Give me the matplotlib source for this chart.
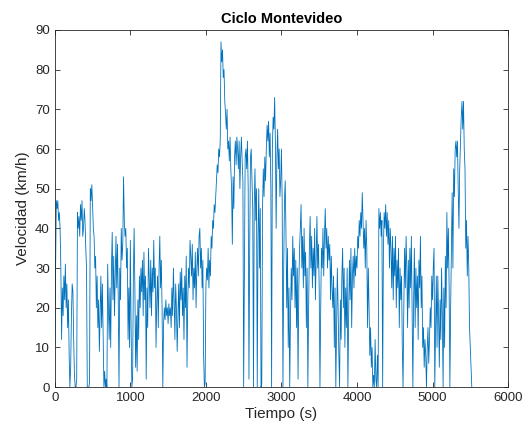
import numpy as np
import matplotlib
matplotlib.use("Agg")
import matplotlib.pyplot as plt

dt = 10  # s between samples
speed = [
    # 0 - 490 s
    11, 30, 47, 45, 47, 42, 44, 40, 30, 12,
    25, 18, 28, 22, 31, 20, 26, 15, 22, 8,
    0, 5, 18, 26, 24, 12, 3, 0, 0, 2,
    44, 40, 43, 38, 46, 42, 47, 38, 40, 45,
    42, 35, 30, 0, 0, 0, 1, 50, 47, 51,
    # 500 - 990 s
    46, 40, 38, 30, 33, 20, 28, 15, 22, 9,
    18, 28, 15, 26, 12, 0, 4, 0, 2, 0,
    31, 20, 12, 25, 10, 30, 39, 22, 33, 18,
    28, 38, 25, 36, 22, 0, 30, 22, 40, 32,
    36, 53, 42, 38, 40, 30, 35, 12, 25, 10,
    # 1000 - 1490 s
    37, 15, 0, 2, 28, 40, 25, 5, 18, 4,
    22, 12, 28, 20, 30, 24, 32, 18, 34, 22,
    28, 2, 25, 15, 35, 28, 20, 32, 18, 30,
    24, 37, 25, 30, 10, 22, 28, 15, 30, 38,
    25, 32, 20, 0, 16, 20, 17, 22, 18, 20,
    # 1500 - 1990 s
    16, 21, 18, 20, 15, 25, 18, 30, 22, 12,
    26, 20, 9, 18, 26, 15, 29, 22, 30, 18,
    25, 12, 28, 20, 33, 5, 22, 30, 25, 37,
    33, 28, 36, 22, 30, 25, 34, 20, 30, 35,
    28, 38, 40, 30, 35, 25, 32, 8, 0, 1,
    # 2000 - 2490 s
    25, 30, 27, 35, 25, 32, 28, 38, 35, 42,
    40, 46, 44, 48, 52, 56, 54, 60, 58, 62,
    87, 82, 85, 78, 80, 72, 69, 65, 70, 60,
    62, 57, 63, 55, 50, 36, 53, 45, 58, 62,
    56, 63, 60, 55, 62, 50, 58, 63, 57, 52,
    # 2500 - 2990 s
    0, 30, 58, 60, 55, 62, 50, 2, 35, 58,
    60, 52, 45, 0, 46, 55, 42, 50, 0, 38,
    50, 30, 45, 0, 1, 45, 55, 48, 58, 52,
    60, 66, 62, 67, 58, 64, 50, 0, 60, 68,
    65, 73, 62, 40, 58, 65, 55, 60, 48, 52,
    # 3000 - 3490 s
    60, 47, 0, 30, 47, 52, 39, 20, 35, 10,
    25, 0, 18, 30, 22, 38, 28, 35, 20, 32,
    15, 30, 2, 25, 35, 40, 46, 30, 38, 25,
    40, 28, 34, 15, 30, 0, 20, 35, 43, 30,
    38, 25, 35, 28, 40, 22, 33, 43, 30, 36,
    # 3500 - 3990 s
    25, 0, 20, 35, 30, 40, 28, 38, 45, 35,
    40, 30, 38, 32, 36, 22, 33, 25, 20, 28,
    10, 25, 0, 15, 30, 20, 8, 0, 22, 12,
    28, 35, 20, 30, 10, 25, 15, 30, 0, 18,
    32, 22, 35, 15, 28, 33, 25, 35, 28, 33,
    # 4000 - 4490 s
    30, 38, 35, 42, 38, 44, 40, 49, 42, 35,
    40, 30, 42, 35, 15, 30, 20, 8, 15, 5,
    10, 0, 3, 0, 12, 2, 0, 8, 0, 45,
    40, 44, 38, 42, 0, 35, 44, 40, 46, 38,
    44, 36, 42, 30, 40, 35, 25, 38, 22, 35,
    # 4500 - 4990 s
    28, 38, 20, 32, 25, 35, 15, 30, 22, 28,
    10, 0, 20, 35, 25, 38, 30, 15, 32, 20,
    35, 25, 38, 18, 0, 22, 35, 15, 30, 20,
    28, 12, 32, 25, 38, 20, 28, 10, 15, 5,
    12, 8, 0, 10, 15, 6, 12, 20, 15, 28,
    # 5000 - 5520 s
    22, 30, 35, 0, 15, 28, 10, 28, 18, 5,
    22, 12, 30, 18, 0, 25, 10, 33, 20, 44,
    30, 40, 25, 0, 20, 35, 49, 30, 55, 48,
    60, 62, 58, 62, 50, 40, 55, 62, 68, 72,
    65, 72, 60, 55, 35, 42, 28, 38, 30, 15,
    10, 5, 0,
]
time = np.arange(len(speed)) * dt

x_ticks = [0, 1000, 2000, 3000, 4000, 5000, 6000]
y_ticks = [0, 10, 20, 30, 40, 50, 60, 70, 80, 90]

plt.rcParams['font.family'] = ['Liberation Sans', 'DejaVu Sans']
fig = plt.figure(figsize=(5.32, 4.34), dpi=100)
ax = fig.add_axes([0.103, 0.108, 0.852, 0.823])
ax.plot(time, speed, color='#0072BD', linewidth=0.6)
ax.set_xlim(0, 6000)
ax.set_ylim(0, 90)
ax.set_xticks(x_ticks)
ax.set_yticks(y_ticks)
ax.tick_params(direction='in', top=True, right=True, labelsize=9.5, colors='#262626', length=3.5, width=0.6)
for s in ax.spines.values():
    s.set_color('#262626')
    s.set_linewidth(0.6)
ax.set_title('Ciclo Montevideo', fontsize=10.5, fontweight='bold', color='black', pad=5)
ax.set_xlabel('Tiempo (s)', fontsize=11, color='#262626', labelpad=2)
ax.set_ylabel('Velocidad (km/h)', fontsize=11, color='#262626', labelpad=4)
fig.savefig('out.png', dpi=100)
